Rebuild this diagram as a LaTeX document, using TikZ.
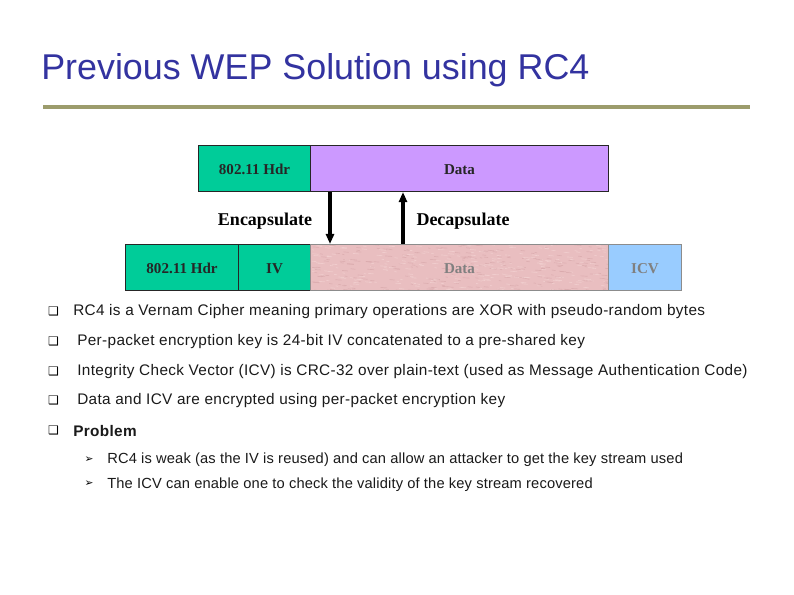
\documentclass[tikz,border=0pt]{standalone}
\usepackage{fontspec}
\setmainfont{Liberation Sans}
\newfontfamily\serifb{Liberation Serif}
\newfontfamily\djv{DejaVu Sans}
\newfontfamily\bodyf[LetterSpace=2.3]{Liberation Sans}
\newfontfamily\subf[LetterSpace=1.1]{Liberation Sans}
\usetikzlibrary{arrows.meta}
\definecolor{titleblue}{HTML}{3333A0}
\definecolor{ruleolive}{HTML}{9C9C6C}
\definecolor{hdrgreen}{HTML}{00CC99}
\definecolor{datapurple}{HTML}{CC99FF}
\definecolor{encpink}{HTML}{E9BEC0}
\definecolor{speckdark}{HTML}{D9A9AC}
\definecolor{specklight}{HTML}{F3D3D3}
\definecolor{icvblue}{HTML}{99CCFF}
\definecolor{bodygrey}{HTML}{1A1A1A}
\tikzset{
  fieldbox/.style={draw=#1, line width=0.8pt, inner sep=0pt, minimum height=34.5pt, text height=9pt, text depth=0pt, font=\serifb\bfseries\fontsize{11.3}{13}\selectfont, anchor=north west},
  clearfield/.style={fieldbox=black!85, text=black!85},
  cipherfield/.style={fieldbox=black!45, text=black!50},
  flow/.style={line width=2.5pt, black, -{Triangle[length=7.5pt,width=6pt]}},
  sidelabel/.style={font=\serifb\bfseries\fontsize{13.5}{15}\selectfont, inner sep=0pt},
  bul/.style={font=\djv\fontsize{9}{10}\selectfont, inner sep=0pt, text=black},
  subbul/.style={font=\djv\fontsize{8}{10}\selectfont, inner sep=0pt, text=black},
  bodytext/.style={font=\bodyf\fontsize{11.5}{13}\selectfont, anchor=west, inner sep=0pt, text=bodygrey},
  subtext/.style={font=\subf\fontsize{11}{13}\selectfont, anchor=west, inner sep=0pt, text=bodygrey}
}
\begin{document}
\begin{tikzpicture}[x=0.75pt,y=-0.75pt]
\useasboundingbox (0,0) rectangle (794,595);
\fill[white] (0,0) rectangle (794,595);
\node[font=\fontsize{26.9}{30}\selectfont, text=titleblue, anchor=west, inner sep=0pt] (title) at (41,70.5) {Previous WEP Solution using RC4};
\coordinate (ruleL) at (43,107);
\coordinate (ruleR) at (750,107);
\draw[ruleolive, line width=2.6pt] (ruleL) -- (ruleR);

\node[clearfield, fill=hdrgreen, minimum width=84pt] (thdr) at (198,145) {802.11 Hdr};
\node[clearfield, fill=datapurple, minimum width=223.5pt] (tdata) at (310,145) {Data};

\fill[encpink] (310,244) rectangle (608,290);
\begin{scope}
\clip (310,244) rectangle (608,290);
\pgfmathsetseed{42}
\foreach \i in {1,...,500}{
  \pgfmathsetmacro{\xa}{310+298*rnd}
  \pgfmathsetmacro{\ya}{244+46*rnd}
  \pgfmathsetmacro{\da}{2+5*rnd}
  \pgfmathparse{rnd<0.5 ? "speckdark" : "specklight"}
  \edef\sc{\pgfmathresult}
  \draw[\sc, line width=0.5pt, opacity=0.7] (\xa,\ya) -- ++(\da,0.5);
}
\end{scope}
\node[clearfield, fill=hdrgreen, minimum width=84.75pt] (bhdr) at (125,244) {802.11 Hdr};
\node[clearfield, fill=hdrgreen, minimum width=54pt] (biv) at (238,244) {IV};
\node[cipherfield, minimum width=223.5pt] (bdata) at (310,244) {Data};
\node[cipherfield, fill=icvblue, minimum width=54.75pt] (bicv) at (608,244) {ICV};

\draw[flow] (tdata.south west -| 330,191) -- (bdata.north west -| 330,244);
\draw[flow] (bdata.north west -| 403,244) -- (tdata.south west -| 403,191);

\node[sidelabel] (enc) at (265,221.5) {Encapsulate};
\node[sidelabel] (dec) at (463,221.5) {Decapsulate};

\node[bul] (b1) at (53.5,311) {❑};
\node[bodytext] (t1) at (73,312) {RC4 is a Vernam Cipher meaning primary operations are XOR with pseudo-random bytes};
\node[bul] (b2) at (53.5,341) {❑};
\node[bodytext] (t2) at (77,342) {Per-packet encryption key is 24-bit IV concatenated to a pre-shared key};
\node[bul] (b3) at (53.5,371) {❑};
\node[bodytext] (t3) at (77,372) {Integrity Check Vector (ICV) is CRC-32 over plain-text (used as Message Authentication Code)};
\node[bul] (b4) at (53.5,400) {❑};
\node[bodytext] (t4) at (77,401) {Data and ICV are encrypted using per-packet encryption key};
\node[bul] (b5) at (53.5,430) {❑};
\node[bodytext] (t5) at (73,431) {\bfseries Problem};
\node[subbul] (s1) at (89,460) {➢};
\node[subtext] (u1) at (107,460) {RC4 is weak (as the IV is reused) and can allow an attacker to get the key stream used};
\node[subbul] (s2) at (89,484) {➢};
\node[subtext] (u2) at (107,485) {The ICV can enable one to check the validity of the key stream recovered};
\end{tikzpicture}
\end{document}
